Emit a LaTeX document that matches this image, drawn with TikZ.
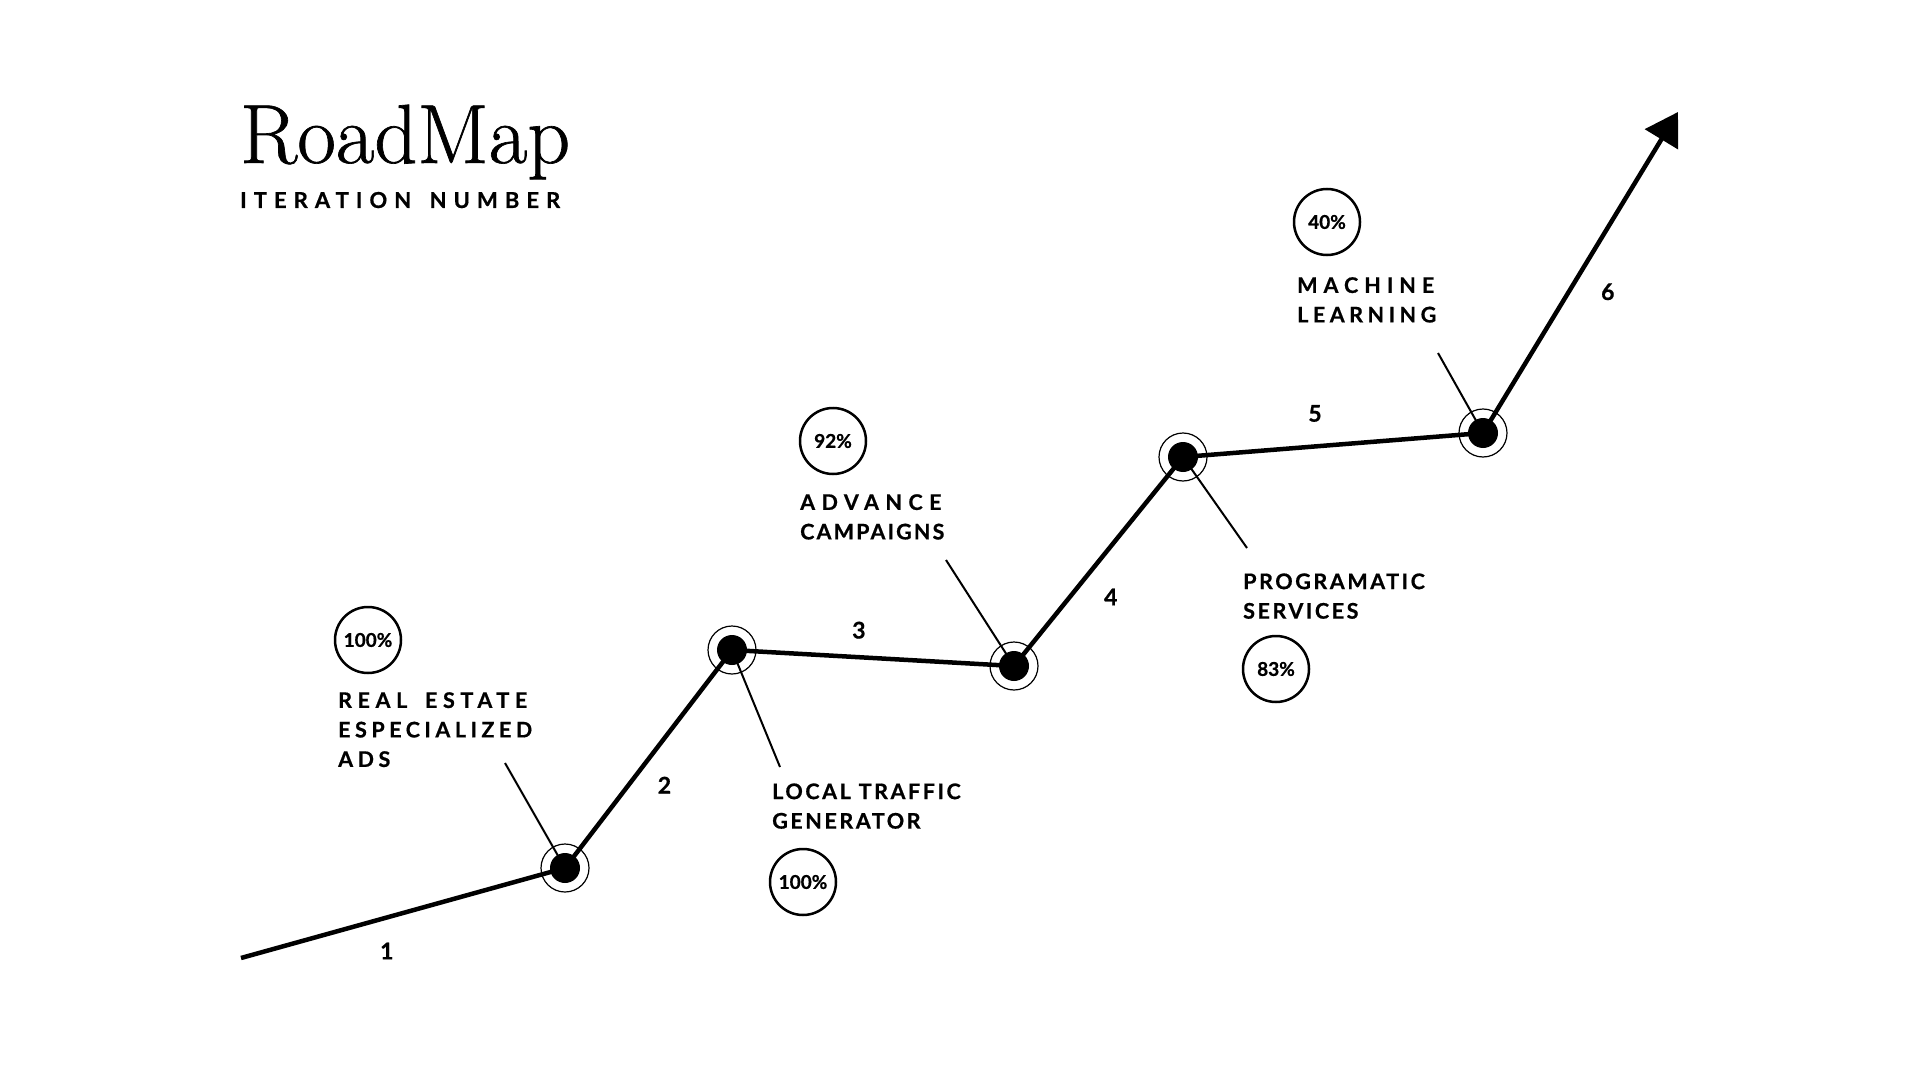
\documentclass[tikz,border=0pt]{standalone}
\usepackage{fontspec}
\usepackage{tikz}
\usetikzlibrary{positioning,arrows.meta}
\newfontfamily\labfont{Lato}[BoldFeatures={FakeBold=0.7}]
\newfontfamily\titlefont{Latin Modern Roman}[FakeBold=0.8]
\newcommand{\trk}[2]{{\addfontfeatures{LetterSpace=#1}#2}}

\begin{document}
\begin{tikzpicture}[x=1pt,y=-1pt,on grid,
	milestone/.style={circle,draw,line width=1.2pt,minimum size=48pt,inner sep=0pt,
		path picture={\fill (path picture bounding box.center) circle (15pt);}},
	pct/.style={circle,draw,line width=2.5pt,minimum size=66pt,inner sep=0pt,
		font=\labfont\bfseries\fontsize{19}{20}\selectfont},
	tag/.style={inner sep=0pt,align=left,font=\labfont\bfseries\fontsize{21.5}{29.5}\selectfont},
	num/.style={inner sep=0pt,font=\labfont\bfseries\fontsize{23}{24}\selectfont},
	road/.style={line width=4.5pt,line join=round},
	leader/.style={line width=2pt,shorten >=14pt}]
	\fill[white] (0,0) rectangle (1920,1078);
	% title
	\node[anchor=base west,inner sep=0pt,font=\titlefont\fontsize{84}{86}\selectfont] (title) at (240,163) {RoadMap};
	\node[anchor=base west,inner sep=0pt,font=\labfont\fontsize{22}{24}\selectfont] (subtitle)
		at ([yshift=-45pt]title.base west) {\trk{32}{\bfseries ITERATION\hspace{6pt} NUMBER}};
	% milestones
	\node[milestone] (m1) at (565,868) {};
	\coordinate[below left=90pt and 324pt of m1] (s);
	\node[milestone,above right=218pt and 167pt of m1] (m2) {};
	\node[milestone,below right=16pt and 282pt of m2] (m3) {};
	\node[milestone,above right=209pt and 169pt of m3] (m4) {};
	\node[milestone,above right=24pt and 300pt of m4] (m5) {};
	\coordinate[above right=321pt and 195pt of m5] (tip);
	% percentages
	\node[pct,above left=228pt and 197pt of m1] (p1) {100\%};
	\node[pct,below right=232pt and 71pt of m2] (p2) {100\%};
	\node[pct,above left=225pt and 181pt of m3] (p3) {92\%};
	\node[pct,below right=212pt and 93pt of m4] (p4) {83\%};
	\node[pct,above left=211pt and 156pt of m5] (p5) {40\%};
	% labels
	\node[tag,below left=52pt and 30pt of p1,anchor=north west] (lab1)
		{\trk{26}{REAL\hspace{7pt} ESTATE}\\\trk{21}{ESPECIALIZED}\\\trk{21}{ADS}};
	\node[tag,above left=53pt and 31pt of p2,anchor=south west] (lab2)
		{\trk{12}{LOCAL TRAFFIC}\\\trk{12}{GENERATOR}};
	\node[tag,below left=53pt and 33pt of p3,anchor=north west] (lab3)
		{\trk{30}{ADVANCE}\\\trk{10}{CAMPAIGNS}};
	\node[tag,above left=50pt and 33pt of p4,anchor=south west] (lab4)
		{\trk{12}{PROGRAMATIC}\\\trk{12}{SERVICES}};
	\node[tag,below left=55pt and 30pt of p5,anchor=north west] (lab5)
		{\trk{28}{MACHINE}\\\trk{21}{LEARNING}};
	% leaders
	\coordinate[above left=105pt and 60pt of m1] (l1);
	\coordinate[below right=117pt and 48pt of m2] (l2);
	\coordinate[above left=106pt and 68pt of m3] (l3);
	\coordinate[below right=91pt and 64pt of m4] (l4);
	\coordinate[above left=80pt and 45pt of m5] (l5);
	\draw[leader] (l1) edge (m1.center)
		(l2) edge (m2.center)
		(l3) edge (m3.center)
		(l4) edge (m4.center)
		(l5) edge (m5.center);
	% road
	\draw[road,-{Triangle[length=32pt,width=38pt]}] (s)
		-- node[num,pos=.45,yshift=-33.5pt] (d1) {1} (m1.center)
		-- node[num,pos=.38,xshift=36pt] (d2) {2} (m2.center)
		-- node[num,pos=.45,yshift=27pt] (d3) {3} (m3.center)
		-- node[num,pos=.33,xshift=41pt] (d4) {4} (m4.center)
		-- node[num,pos=.44,yshift=33pt] (d5) {5} (m5.center)
		-- node[num,pos=.44,xshift=39pt] (d6) {6} (tip);
\end{tikzpicture}
\end{document}
